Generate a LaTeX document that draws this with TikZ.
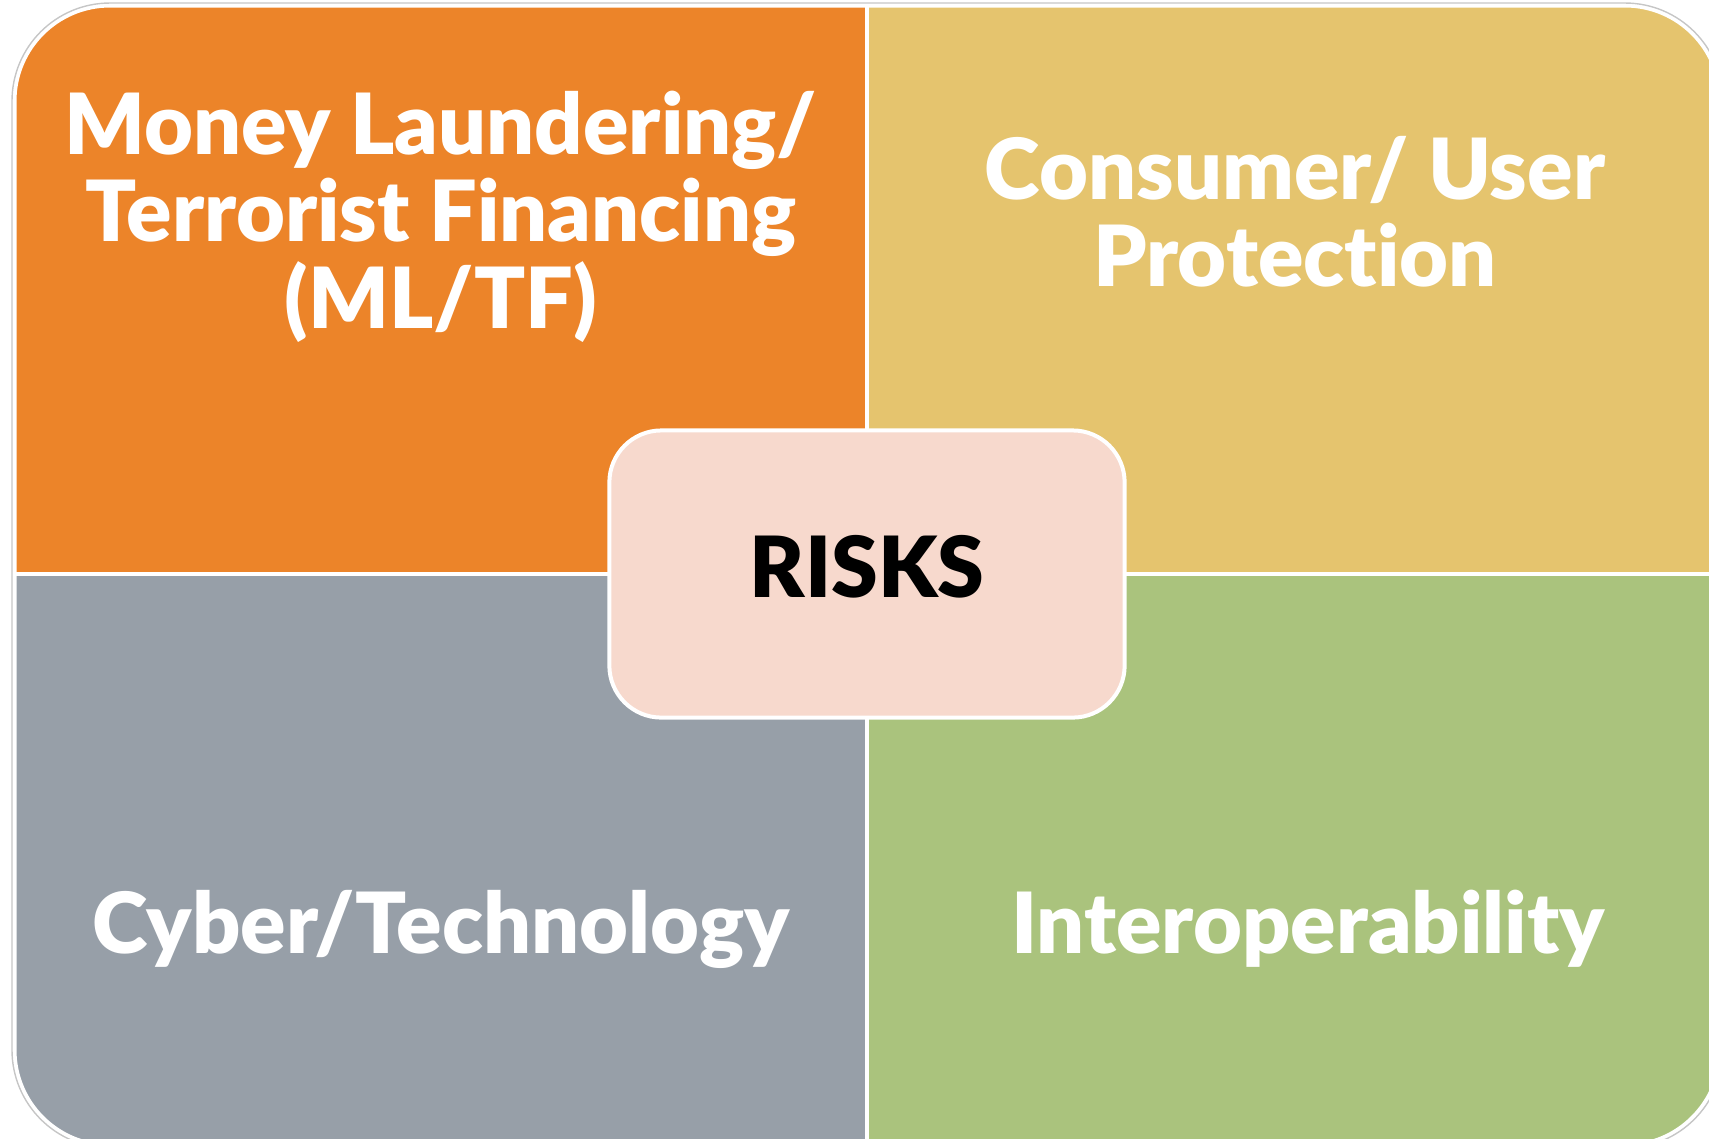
\documentclass[tikz,border=0pt]{standalone}
\usepackage{fontspec}
\usepackage{tikz}
\setmainfont{Lato}[Ligatures=NoCommon]
\newfontfamily\heavyfont{Lato Black}[Ligatures=NoCommon]
\definecolor{mlorange}{rgb}{0.925,0.518,0.161}
\definecolor{cuyellow}{rgb}{0.898,0.769,0.431}
\definecolor{ctgrey}{rgb}{0.592,0.624,0.659}
\definecolor{iogreen}{rgb}{0.667,0.765,0.490}
\definecolor{rkpink}{rgb}{0.969,0.851,0.804}
\tikzstyle{quadtext}=[text=white,inner sep=0pt,anchor=base,align=center,font=\fontsize{24}{24.7}\selectfont\heavyfont]

\begin{document}
\begin{tikzpicture}[line cap=round,line join=round,x=0.01cm,y=-0.01cm]
        \clip (0,0) rectangle (1709,1138);
        \draw [line width=0.4pt,color=gray!45,rounded corners=0.98cm] (12,3) rectangle (1723,1148);
        \begin{scope}
            \clip [rounded corners=0.95cm] (15,6) rectangle (1720,1145);
            \fill [mlorange] (15,6) rectangle (867,574);
            \fill [cuyellow] (867,6) rectangle (1720,574);
            \fill [ctgrey] (15,574) rectangle (867,1145);
            \fill [iogreen] (867,574) rectangle (1720,1145);
            \draw [white,line width=0.04cm] (867,6) -- (867,1145);
            \draw [white,line width=0.04cm] (15,574) -- (1720,574);
        \end{scope}
        \draw [white,line width=0.03cm,rounded corners=0.95cm] (15,6) rectangle (1720,1145);
        \node [quadtext] (mltf) at (441,328) {Money Laundering/\\Terrorist Financing\\(ML/TF)};
        \node [quadtext] (consumer) at (1295,286) {Consumer/ User\\Protection};
        \node [quadtext] (cyber) at (441,953) {Cyber/Technology};
        \node [quadtext] (interop) at (1308,953) {Interoperability};
        \node [draw=white,line width=0.04cm,fill=rkpink,rounded corners=0.52cm,minimum width=5.15cm,minimum height=2.87cm] (risks) at (867,574) {};
        \node [inner sep=0pt,anchor=base,font=\fontsize{24}{24.7}\selectfont\heavyfont] (riskslabel) at (867,597) {RISKS};
\end{tikzpicture}
\end{document}
